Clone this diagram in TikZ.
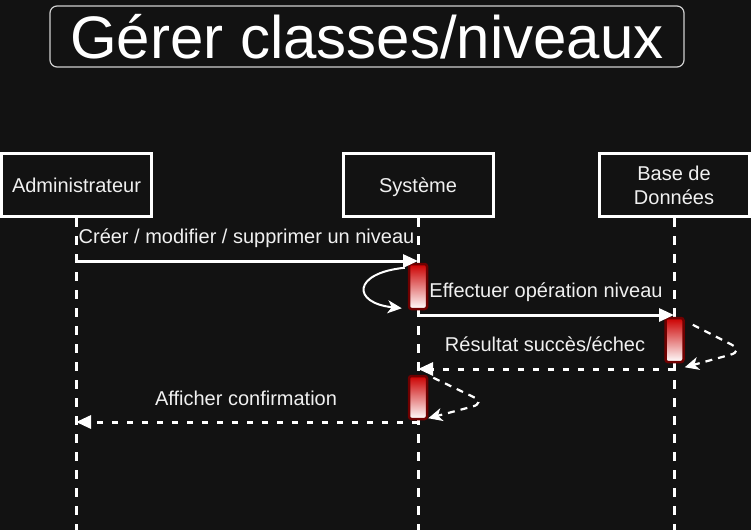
\documentclass[tikz,border=0pt]{standalone}
\usepackage{fontspec}
\setmainfont{Liberation Sans}
\usetikzlibrary{arrows.meta,calc}
\definecolor{bg}{HTML}{121212}
\definecolor{txt}{HTML}{F0F0F0}
\definecolor{barline}{HTML}{6F0000}
\definecolor{bartop}{HTML}{CC0000}
\definecolor{titleline}{HTML}{D0D0D0}
\begin{document}
\begin{tikzpicture}[x=1pt,y=-1pt,
  lifebox/.style={draw=white, line width=3pt, fill=bg, minimum width=150pt, minimum height=63pt,
    inner sep=0pt, text=txt, font=\fontsize{20}{24}\selectfont, align=center},
  oneline/.style={text height=14.3pt, text depth=0pt},
  lifeline/.style={draw=white, line width=3pt, dash pattern=on 9pt off 9pt},
  actbar/.style={draw=barline, line width=2.5pt, rounded corners=2.5pt, top color=bartop,
    bottom color=white, minimum width=18pt, inner sep=0pt},
  msg/.style={draw=white, line width=3pt, -{Triangle[length=15pt,width=13pt]}},
  retmsg/.style={draw=white, line width=3pt, dash pattern=on 6pt off 9pt, -{Triangle[length=15pt,width=13pt]}},
  selfmsg/.style={draw=white, line width=2pt, -{Stealth[length=14pt,width=13pt,inset=4pt]}},
  selfret/.style={draw=white, line width=2.2pt, dash pattern=on 7pt off 6pt, rounded corners=14pt,
    -{Stealth[length=14pt,width=13pt,inset=4pt]}},
  lbl/.style={text=txt, font=\fontsize{20}{24}\selectfont, inner sep=0pt, anchor=base},
]
\useasboundingbox[fill=bg] (0,0) rectangle (751,530);

% title
\node[draw=titleline, line width=1.2pt, rounded corners=7pt, minimum width=634pt, minimum height=61pt,
  inner sep=0pt, text=white, font=\fontsize{60}{66}\selectfont] (title) at (367,36.5) {Gérer classes/niveaux};

% lifelines
\coordinate (adminEnd) at (76,531);
\coordinate (sysEnd) at (418,531);
\coordinate (dbEnd) at (674,531);
\draw[lifeline] (76,218) -- (adminEnd);
\draw[lifeline] (418,218) -- (sysEnd);
\draw[lifeline] (674,218) -- (dbEnd);

\node[lifebox, oneline] (admin) at (76.5,185) {Administrateur};
\node[lifebox, oneline] (sys) at (418,185) {Système};
\node[lifebox] (db) at (674,185) {Base de\\Données};

% activation bars
\node[actbar, minimum height=45pt] (bar1) at (418,286.5) {};
\node[actbar, minimum height=44pt] (bar2) at (674.5,340) {};
\node[actbar, minimum height=43pt] (bar3) at (418,397.5) {};

% message points
\coordinate (m1a) at (76,261);
\coordinate (m1s) at (418,261);
\coordinate (m2s) at (418,315);
\coordinate (m2d) at (674,315);
\coordinate (m3d) at (674,369);
\coordinate (m3s) at (418,369);
\coordinate (m4s) at (418,422);
\coordinate (m4a) at (76,422);

% messages
\draw[msg] (m1a) -- (m1s);
\node[lbl] (l1) at (246.5,243) {Créer / modifier / supprimer un niveau};

\draw[selfmsg] ($(bar1.north west)+(-3,5)$) .. controls (352,273) and (352,303) .. ($(bar1.south west)+(-6,-2)$);
\node[lbl] (l2) at (546,297) {Effectuer opération niveau};

\draw[msg] (m2s) -- (m2d);

\draw[selfret] ($(bar2.north east)+(8,8)$) -- (744,351) -- ($(bar2.south east)+(0,4)$);
\node[lbl] (l3) at (545,351) {Résultat succès/échec};
\draw[retmsg] (m3d) -- (m3s);

\draw[selfret] ($(bar3.north east)+(5,3)$) -- (486,403) -- ($(bar3.south east)+(0,-2)$);
\node[lbl] (l4) at (246,405) {Afficher confirmation};
\draw[retmsg] (m4s) -- (m4a);
\end{tikzpicture}
\end{document}
